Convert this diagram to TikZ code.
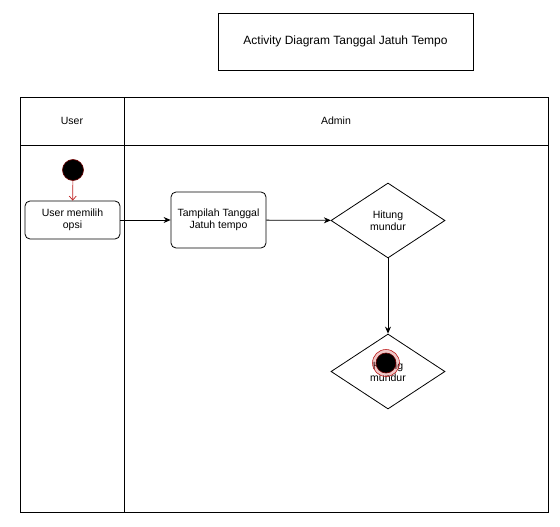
\documentclass[tikz,border=0pt]{standalone}
\usepackage{fontspec}
\setmainfont{Liberation Sans}
\usetikzlibrary{arrows.meta,shapes.geometric}

\definecolor{merah}{RGB}{190,30,30}
\definecolor{tepi}{RGB}{110,0,0}

\tikzset{
  garis/.style={draw, line width=0.9pt},
  aksi/.style={draw, line width=0.8pt, rounded corners=5pt, align=center,
    inner sep=1pt, font=\fontsize{10.5}{12.5}\selectfont},
  putusan/.style={draw, line width=0.8pt, diamond, aspect=1.52, inner sep=0pt,
    minimum width=114pt, minimum height=75pt, align=center,
    font=\fontsize{10.5}{12.5}\selectfont},
  panah/.style={line width=0.8pt, -{Stealth[length=7pt,width=6pt]}},
}

\begin{document}
\begin{tikzpicture}[x=1pt, y=-1pt]
  \useasboundingbox (0,0) rectangle (560,527);

  % judul
  \node[draw, line width=0.8pt, minimum width=255pt, minimum height=57pt,
    font=\fontsize{12}{14}\selectfont] (judul) at (345.5,41.5)
    {Activity Diagram Tanggal Jatuh Tempo};

  % swimlane
  \draw[garis] (20.5,97.5) rectangle (548.5,512);
  \draw[garis] (20.5,145) -- (548.5,145);
  \draw[garis] (124,97.5) -- (124,512);
  \node[font=\fontsize{10.5}{12.5}\selectfont] (user) at (72,121) {User};
  \node[font=\fontsize{10.5}{12.5}\selectfont] (admin) at (336,121) {Admin};

  % start
  \node[circle, fill=black, draw=tepi, line width=0.6pt, minimum size=21pt,
    inner sep=0pt] (mulai) at (73,170) {};

  % aksi
  \node[aksi, minimum width=95pt, minimum height=38pt] (pilih) at (72.5,220)
    {User memilih\\opsi};
  \node[aksi, minimum width=95pt, minimum height=56pt] (tampil) at (218.5,220)
    {Tampilah Tanggal\\Jatuh tempo};
  \node[putusan] (hitung) at (388,220.5) {Hitung\\mundur};
  \node[putusan] (hitung2) at (388,371.5) {Hitung\\mundur};

  % end
  \node[circle, draw=merah, fill=merah, fill opacity=0.25, line width=0.6pt,
    minimum size=27pt, inner sep=0pt] (akhir) at (386,363) {};
  \node[circle, fill=black, draw=tepi, line width=0.6pt, minimum size=20pt,
    inner sep=0pt] (akhirdalam) at (akhir) {};

  % panah
  \draw[line width=0.7pt, merah, -{Straight Barb[length=4pt,width=7pt]}]
    (mulai) -- (pilih);
  \draw[panah] (pilih) -- (tampil);
  \draw[panah] (tampil) -- (hitung);
  \draw[panah] (hitung) -- (hitung2);
\end{tikzpicture}
\end{document}
